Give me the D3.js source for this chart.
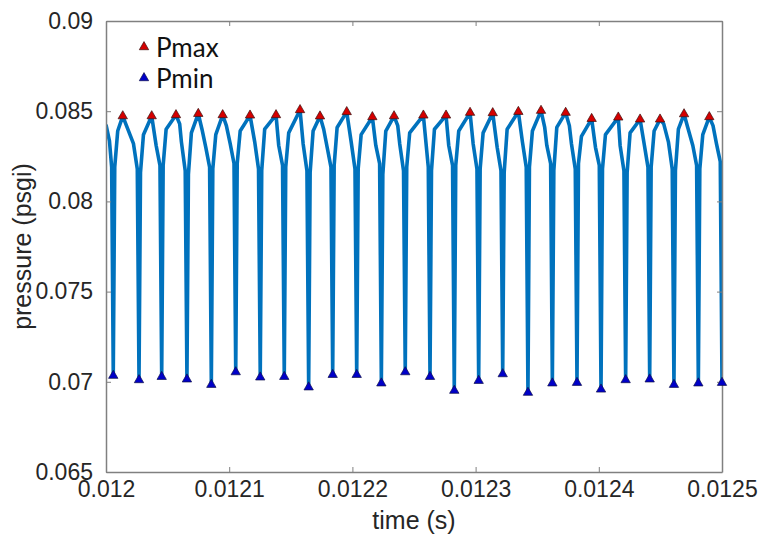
<!DOCTYPE html>
<html>
<head>
<meta charset="utf-8">
<script src="https://cdn.jsdelivr.net/npm/d3@7"></script>
<style>
  html, body { margin: 0; padding: 0; background: #fff; }
  svg { display: block; }
</style>
</head>
<body>
<svg id="chart" width="763" height="537"></svg>
<script>
// Axis ticks and labels
const xTicks = [0.012, 0.0121, 0.0122, 0.0123, 0.0124, 0.0125];
const xTickLabels = ["0.012", "0.0121", "0.0122", "0.0123", "0.0124", "0.0125"];
const yTicks = [0.065, 0.07, 0.075, 0.08, 0.085, 0.09];
const yTickLabels = ["0.065", "0.07", "0.075", "0.08", "0.085", "0.09"];

// Pressure minima (one per pulse) — time (s), pressure (psgi)
const minTime = [0.0120059, 0.0120268, 0.0120452, 0.0120657, 0.0120855, 0.0121053, 0.0121252,
  0.0121447, 0.0121645, 0.0121840, 0.0122035, 0.0122235, 0.0122429, 0.0122630, 0.0122827,
  0.0123025, 0.0123220, 0.0123425, 0.0123623, 0.0123823, 0.0124018, 0.0124218, 0.0124413,
  0.0124610, 0.0124808, 0.0125000];
const minPressure = [0.07034, 0.07010, 0.07028, 0.07014, 0.06984, 0.07054, 0.07025,
  0.07028, 0.06970, 0.07039, 0.07039, 0.06992, 0.07054, 0.07028, 0.06951,
  0.07006, 0.07043, 0.06940, 0.06992, 0.06995, 0.06958, 0.07010, 0.07014,
  0.06984, 0.06992, 0.06995];

// Pressure maxima (one per pulse)
const maxTime = [0.0120136, 0.0120371, 0.0120568, 0.0120749, 0.0120947, 0.0121169, 0.0121380,
  0.0121575, 0.0121737, 0.0121954, 0.0122162, 0.0122338, 0.0122576, 0.0122760, 0.0122955,
  0.0123139, 0.0123347, 0.0123531, 0.0123731, 0.0123942, 0.0124158, 0.0124335, 0.0124497,
  0.0124692, 0.0124897];
const maxPressure = [0.08473, 0.08473, 0.08479, 0.08486, 0.08479, 0.08477, 0.08479,
  0.08507, 0.08472, 0.08496, 0.08468, 0.08473, 0.08477, 0.08477, 0.08492,
  0.08490, 0.08497, 0.08503, 0.08492, 0.08458, 0.08466, 0.08455, 0.08455,
  0.08484, 0.08468];

// Plateau levels of each pulse: after the recovery, before and after the crest, before the drop
const kneeUp = [0.0819, 0.0816, 0.0820, 0.0815, 0.0818, 0.0821, 0.0817, 0.0819, 0.0816, 0.0820,
  0.0818, 0.0815, 0.0819, 0.0817, 0.0820, 0.0818, 0.0816, 0.0819, 0.0817, 0.0821,
  0.0818, 0.0816, 0.0819, 0.0817, 0.0818];
const shoulderUp = [0.0839, 0.0837, 0.0840, 0.0838, 0.0837, 0.0839, 0.0840, 0.0838, 0.0839, 0.0841,
  0.0837, 0.0839, 0.0838, 0.0840, 0.0839, 0.0838, 0.0840, 0.0839, 0.0841, 0.0836,
  0.0837, 0.0838, 0.0839, 0.0840, 0.0837];
const crestDown = [0.0842, 0.0841, 0.0843, 0.0840, 0.0842, 0.0843, 0.0841, 0.0842, 0.0840, 0.0843,
  0.0841, 0.0842, 0.0843, 0.0841, 0.0842, 0.0840, 0.0843, 0.0841, 0.0842, 0.0840,
  0.0841, 0.0842, 0.0843, 0.0841, 0.0842];
const shoulderDown = [0.0832, 0.0831, 0.0833, 0.0830, 0.0832, 0.0833, 0.0831, 0.0832, 0.0830, 0.0833,
  0.0831, 0.0832, 0.0833, 0.0831, 0.0832, 0.0830, 0.0833, 0.0831, 0.0832, 0.0830,
  0.0831, 0.0832, 0.0833, 0.0831, 0.0832];
const kneeDown = [0.0818, 0.0820, 0.0817, 0.0819, 0.0821, 0.0818, 0.0820, 0.0817, 0.0819, 0.0818,
  0.0821, 0.0817, 0.0819, 0.0820, 0.0818, 0.0817, 0.0819, 0.0821, 0.0818, 0.0820,
  0.0817, 0.0819, 0.0818, 0.0820, 0.0822];

// Record before the first minimum
const startTime = [0.0120000, 0.0120028, 0.0120046];
const startPressure = [0.08425, 0.08335, 0.08190];

// Timing of the plateau points relative to the minima (s)
const riseGap = 1.2e-6, shoulderGap = 3.6e-6, crestGap = 3.0e-6, shoulderGapDown = 4.5e-6, fallGap = 1.4e-6;

// Build the pressure trace from the points above
const trace = [];
startTime.forEach((t, i) => trace.push([t, startPressure[i]]));
for (let i = 0; i < maxTime.length; i++) {
  const next = minTime[i + 1];
  trace.push([minTime[i], minPressure[i]]);
  trace.push([minTime[i] + riseGap, kneeUp[i]]);
  trace.push([minTime[i] + shoulderGap, shoulderUp[i]]);
  trace.push([maxTime[i], maxPressure[i]]);
  const cd = maxTime[i] + crestGap;
  const sd = next - shoulderGapDown;
  if (cd < sd - 1e-6) trace.push([cd, crestDown[i]]);
  if (sd > maxTime[i] + 1e-6) trace.push([sd, shoulderDown[i]]);
  trace.push([next - fallGap, kneeDown[i]]);
}
trace.push([minTime[minTime.length - 1], minPressure[minPressure.length - 1]]);

const svg = d3.select("#chart");
const plot = { left: 106, right: 722, top: 21, bottom: 472 };
const x = d3.scaleLinear().domain([0.012, 0.0125]).range([plot.left, plot.right]);
const y = d3.scaleLinear().domain([0.065, 0.09]).range([plot.bottom, plot.top]);

const axisColor = "#808080";
const textColor = "#262626";
const tickFont = "Liberation Sans, Arial, Helvetica, sans-serif";

svg.append("defs").append("clipPath").attr("id", "plotClip")
  .append("rect")
  .attr("x", plot.left).attr("y", plot.top - 10)
  .attr("width", plot.right - plot.left).attr("height", plot.bottom - plot.top + 20);

// Pressure trace
const line = d3.line().x(d => x(d[0])).y(d => y(d[1]));
svg.append("path")
  .datum(trace)
  .attr("clip-path", "url(#plotClip)")
  .attr("fill", "none")
  .attr("stroke", "#0072BD")
  .attr("stroke-width", 3.6)
  .attr("stroke-linejoin", "round")
  .attr("d", line);

// Axes: ticks point inward, box on all four sides
function styleAxis(g) {
  g.selectAll(".domain").attr("stroke", axisColor).attr("stroke-width", 1.5).attr("fill", "none");
  g.selectAll(".tick line").attr("stroke", axisColor).attr("stroke-width", 1);
  g.selectAll(".tick text").attr("fill", textColor)
    .style("font-family", tickFont).style("font-size", "23px");
}
const xFmt = d => xTickLabels[xTicks.indexOf(d)];
const yFmt = d => yTickLabels[yTicks.indexOf(d)];

svg.append("g").attr("transform", `translate(0,${plot.bottom})`)
  .call(d3.axisBottom(x).tickValues(xTicks).tickFormat(xFmt).tickSizeInner(-5).tickSizeOuter(0).tickPadding(9))
  .call(styleAxis);
svg.append("g").attr("transform", `translate(0,${plot.top})`)
  .call(d3.axisTop(x).tickValues(xTicks).tickFormat("").tickSizeInner(-5).tickSizeOuter(0))
  .call(styleAxis);
svg.append("g").attr("transform", `translate(${plot.left},0)`)
  .call(d3.axisLeft(y).tickValues(yTicks).tickFormat(yFmt).tickSizeInner(-5).tickSizeOuter(0).tickPadding(13))
  .call(styleAxis);
svg.append("g").attr("transform", `translate(${plot.right},0)`)
  .call(d3.axisRight(y).tickValues(yTicks).tickFormat("").tickSizeInner(-5).tickSizeOuter(0))
  .call(styleAxis);

// Pmax / Pmin markers
const tri = d3.symbol().type(d3.symbolTriangle).size(38);
svg.append("g").selectAll("path")
  .data(maxTime.map((t, i) => [t, maxPressure[i]]))
  .join("path")
  .attr("d", tri)
  .attr("transform", d => `translate(${x(d[0])},${y(d[1])})`)
  .attr("fill", "#d40000").attr("stroke", "#3a1010").attr("stroke-width", 0.7);
svg.append("g").selectAll("path")
  .data(minTime.map((t, i) => [t, minPressure[i]]))
  .join("path")
  .attr("d", tri)
  .attr("transform", d => `translate(${x(d[0])},${y(d[1])})`)
  .attr("fill", "#0000c8").attr("stroke", "#10104a").attr("stroke-width", 0.7);

// Legend
const legendFont = "Lato, 'Open Sans', sans-serif";
const legend = svg.append("g");
[["Pmax", "#d40000", "#3a1010", 47], ["Pmin", "#0000c8", "#10104a", 78]].forEach(([label, fill, edge, cy]) => {
  legend.append("path").attr("d", tri)
    .attr("transform", `translate(144,${cy})`)
    .attr("fill", fill).attr("stroke", edge).attr("stroke-width", 0.7);
  legend.append("text").attr("x", 156).attr("y", cy + 10)
    .attr("fill", "#111")
    .style("font-family", legendFont).style("font-size", "26px")
    .text(label);
});

// Axis titles
svg.append("text")
  .attr("x", (plot.left + plot.right) / 2).attr("y", 529)
  .attr("text-anchor", "middle").attr("fill", textColor)
  .style("font-family", tickFont).style("font-size", "25px")
  .text("time (s)");
svg.append("text")
  .attr("transform", `translate(31,${(plot.top + plot.bottom) / 2}) rotate(-90)`)
  .attr("text-anchor", "middle").attr("fill", textColor)
  .style("font-family", tickFont).style("font-size", "25px")
  .text("pressure (psgi)");
</script>
</body>
</html>
